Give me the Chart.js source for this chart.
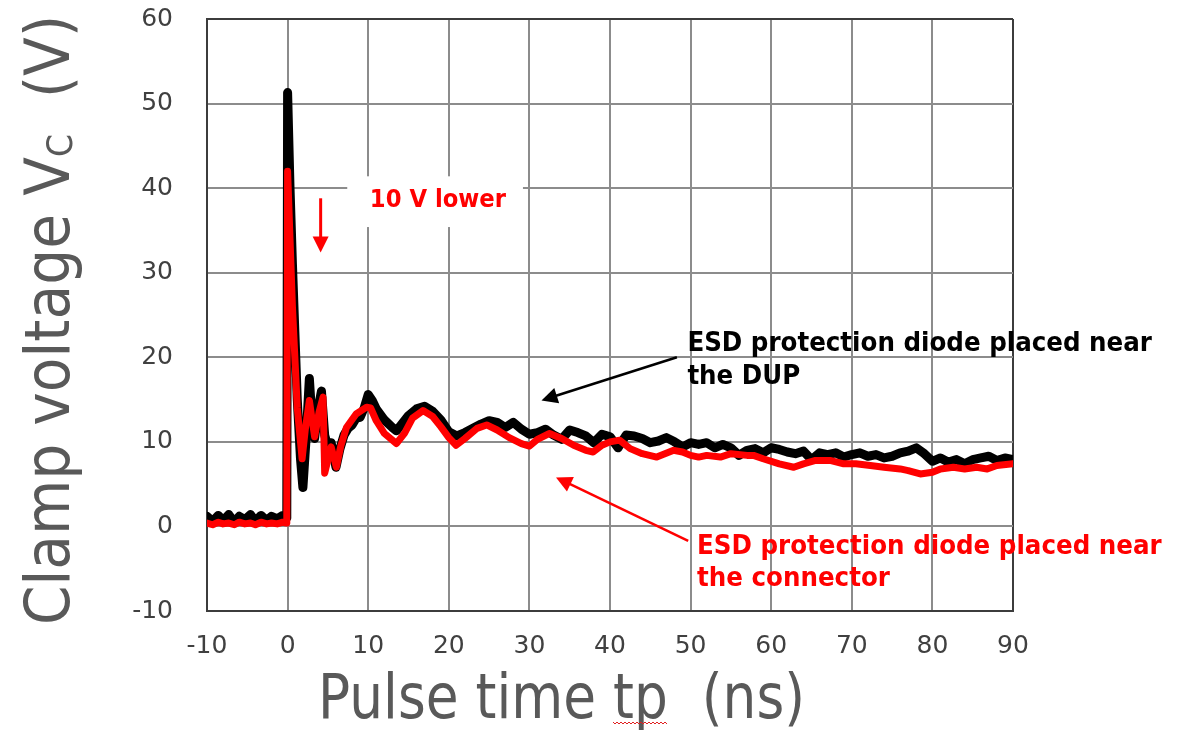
<!DOCTYPE html>
<html>
<head>
<meta charset="utf-8">
<title>Clamp voltage vs pulse time</title>
<script src="https://cdn.jsdelivr.net/npm/chart.js@4.4.1/dist/chart.umd.min.js"></script>
<style>
  html, body { margin: 0; padding: 0; background: #ffffff; }
  #wrap { width: 1186px; height: 730px; }
</style>
</head>
<body>
<div id="wrap"><canvas id="clampChart" width="1186" height="730"></canvas></div>
<script>
// Pulse time (ns) and clamp voltage (V)

// ESD diode near the DUP (black trace)
const dupTime = [
  -10, -9.3, -8.6, -8, -7.3, -6.6, -6, -5.3, -4.6, -4, -3.3, -2.6, -2, -1.3, -0.6, -0.1,
  0, 0.3, 0.6, 0.9, 1.2, 1.6, 1.9, 2.3, 2.7, 3.0,
  3.35, 3.8, 4.2, 4.6, 5.0, 5.4, 6.0, 6.5, 7.0, 7.5,
  8.0, 8.5, 9.0, 9.5, 10, 10.5, 11, 12, 13, 13.5,
  14, 15, 16, 17, 18, 19, 20, 21, 22, 23,
  24, 25, 26, 27, 28, 29, 30, 31, 32, 33,
  34, 35, 36, 37, 38, 39, 40, 41, 42, 43,
  44, 45, 46, 47, 48, 49, 50, 51, 52, 53,
  54, 55, 56, 57, 58, 59, 60, 61, 62, 63,
  64, 65, 66, 67, 68, 69, 70, 71, 72, 73,
  74, 75, 76, 77, 78, 79, 80, 81, 82, 83,
  84, 85, 86, 87, 88, 89, 90
];
const dupVolt = [
  1.2, 0.6, 1.3, 0.7, 1.4, 0.5, 1.2, 0.8, 1.4, 0.6, 1.3, 0.7, 1.2, 0.9, 1.3, 1.0,
  51.3, 40, 31, 23, 15, 8, 4.6, 10.5, 17.5, 13,
  10.4, 14, 16, 10.8, 9.4, 9.9, 7.0, 9.2, 10.8, 11.6,
  12.0, 12.8, 12.9, 14.0, 15.6, 14.9, 13.9, 12.6, 11.7, 11.3,
  11.9, 13.1, 13.9, 14.2, 13.6, 12.6, 11.2, 10.7, 11.1, 11.6,
  12.1, 12.5, 12.3, 11.7, 12.3, 11.5, 10.9, 11.1, 11.5, 10.8,
  10.3, 11.4, 11.1, 10.7, 9.9, 10.9, 10.6, 9.3, 10.8, 10.7,
  10.4, 9.9, 10.1, 10.5, 10.0, 9.4, 9.9, 9.7, 9.9, 9.3,
  9.7, 9.3, 8.4, 9.0, 9.2, 8.7, 9.3, 9.1, 8.8, 8.6,
  8.9, 7.9, 8.7, 8.5, 8.7, 8.2, 8.5, 8.7, 8.3, 8.5,
  8.1, 8.3, 8.7, 8.9, 9.3, 8.6, 7.7, 8.1, 7.6, 7.9,
  7.4, 7.9, 8.1, 8.3, 7.8, 8.1, 7.9
];

// ESD diode near the connector (red trace)
const connTime = [
  -10, -9.3, -8.6, -8, -7.3, -6.6, -6, -5.3, -4.6, -4, -3.3, -2.6, -2, -1.3, -0.6, -0.1,
  0, 0.3, 0.6, 0.9, 1.2, 1.8, 2.2, 2.7, 3.35, 3.9,
  4.4, 4.6, 5.4, 6.05, 6.6, 7.3, 8.5, 9.8, 10.3, 11,
  12, 13.5, 14.5, 15.5, 16.8, 18, 19, 20, 20.9, 22,
  23.5, 24.7, 26, 27.5, 29, 30, 31, 32.5, 34, 35.5,
  37, 37.9, 39, 40, 41.2, 42.5, 44, 45.8, 47.9, 49,
  50, 51, 52, 53.7, 55, 57, 57.8, 59, 61, 62.8,
  64, 65.5, 67.3, 69, 70.5, 72.3, 74, 76, 77, 78.5,
  80, 81, 82.6, 84, 85.5, 86.8, 88, 90
];
const connVolt = [
  0.4, 0.2, 0.5, 0.3, 0.4, 0.2, 0.5, 0.3, 0.4, 0.2, 0.5, 0.3, 0.4, 0.3, 0.5, 0.4,
  42.0, 34, 26, 20, 14, 8.0, 11.5, 14.9, 10.6, 13.5,
  15.3, 6.3, 9.4, 7.0, 9.5, 11.7, 13.3, 14.1, 14.0, 12.5,
  11.0, 9.8, 11.0, 12.8, 13.7, 13.0, 11.8, 10.5, 9.6, 10.4,
  11.6, 12.0, 11.4, 10.5, 9.8, 9.5, 10.3, 11.0, 10.4, 9.6,
  9.0, 8.8, 9.6, 10.0, 10.2, 9.2, 8.6, 8.2, 9.0, 8.8,
  8.4, 8.2, 8.4, 8.2, 8.6, 8.4, 8.4, 8.0, 7.4, 7.0,
  7.4, 7.8, 7.8, 7.4, 7.4, 7.2, 7.0, 6.8, 6.6, 6.2,
  6.4, 6.8, 7.0, 6.8, 7.0, 6.8, 7.2, 7.4
];

const xTicks = [-10, 0, 10, 20, 30, 40, 50, 60, 70, 80, 90];
const yTicks = [-10, 0, 10, 20, 30, 40, 50, 60];

const xTitle = "Pulse time tp  (ns)";
const yTitle = ["Clamp voltage V", "C", "  (V)"];

// callouts, placed in data units (ns, V)
const notes = {
  lowerBox: { x0: 7.4, x1: 29.2, y0: 35.4, y1: 41.4 },
  lowerText: { x: 10.2, y: 38.5, text: "10 V lower" },
  lowerArrow: { x: 4.1, y0: 38.8, y1: 32.4 },
  dupText: { x: 49.6, y: [21.6, 17.7], lines: ["ESD protection diode placed near", "the DUP"] },
  dupArrow: { x0: 48.3, y0: 20.0, x1: 31.5, y1: 14.9 },
  connText: { x: 50.8, y: [-2.4, -6.2], lines: ["ESD protection diode placed near", "the connector"] },
  connArrow: { x0: 49.7, y0: -1.7, x1: 33.3, y1: 5.8 }
};

const colors = {
  dup: "#000000",
  conn: "#ff0000",
  grid: "#8c8c8c",
  frame: "#3c3c3c",
  tick: "#404040",
  title: "#595959"
};

const toPoints = (xs, ys) => xs.map((x, i) => ({ x: x, y: ys[i] }));

function drawArrow(ctx, x0, y0, x1, y1, color, width, head) {
  const ang = Math.atan2(y1 - y0, x1 - x0);
  ctx.save();
  ctx.strokeStyle = color;
  ctx.fillStyle = color;
  ctx.lineWidth = width;
  ctx.beginPath();
  ctx.moveTo(x0, y0);
  ctx.lineTo(x1 - Math.cos(ang) * head * 0.8, y1 - Math.sin(ang) * head * 0.8);
  ctx.stroke();
  ctx.translate(x1, y1);
  ctx.rotate(ang);
  ctx.beginPath();
  ctx.moveTo(0, 0);
  ctx.lineTo(-head, -head * 0.5);
  ctx.lineTo(-head, head * 0.5);
  ctx.closePath();
  ctx.fill();
  ctx.restore();
}

// narrow bold text, Tahoma-like
function drawText(ctx, text, x, y, color, size) {
  ctx.save();
  ctx.font = "bold " + size + "px 'DejaVu Sans'";
  ctx.fillStyle = color;
  ctx.textBaseline = "middle";
  ctx.textAlign = "left";
  ctx.translate(x, y);
  ctx.scale(0.91, 1);
  ctx.fillText(text, 0, 0);
  ctx.restore();
}

const notesPlugin = {
  id: "notes",
  beforeDatasetsDraw(chart) {
    const { ctx, scales: { x, y } } = chart;
    const b = notes.lowerBox;
    ctx.save();
    ctx.fillStyle = "#ffffff";
    const px0 = x.getPixelForValue(b.x0), px1 = x.getPixelForValue(b.x1);
    const py0 = y.getPixelForValue(b.y1), py1 = y.getPixelForValue(b.y0);
    ctx.fillRect(px0, py0, px1 - px0, py1 - py0);
    ctx.restore();
  },
  afterDatasetsDraw(chart) {
    const { ctx, scales: { x, y } } = chart;

    const lt = notes.lowerText;
    drawText(ctx, lt.text, x.getPixelForValue(lt.x), y.getPixelForValue(lt.y), colors.conn, 25);
    const la = notes.lowerArrow;
    drawArrow(ctx, x.getPixelForValue(la.x), y.getPixelForValue(la.y0),
      x.getPixelForValue(la.x), y.getPixelForValue(la.y1), colors.conn, 3, 16);

    const dt = notes.dupText;
    dt.lines.forEach((line, i) => {
      drawText(ctx, line, x.getPixelForValue(dt.x), y.getPixelForValue(dt.y[i]), colors.dup, 27);
    });
    const da = notes.dupArrow;
    drawArrow(ctx, x.getPixelForValue(da.x0), y.getPixelForValue(da.y0),
      x.getPixelForValue(da.x1), y.getPixelForValue(da.y1), colors.dup, 2.5, 16);

    const ct = notes.connText;
    ct.lines.forEach((line, i) => {
      drawText(ctx, line, x.getPixelForValue(ct.x), y.getPixelForValue(ct.y[i]), colors.conn, 27);
    });
    const ca = notes.connArrow;
    drawArrow(ctx, x.getPixelForValue(ca.x0), y.getPixelForValue(ca.y0),
      x.getPixelForValue(ca.x1), y.getPixelForValue(ca.y1), colors.conn, 2.5, 16);
  }
};

// big condensed axis titles, with the subscript on V_C
const titlesPlugin = {
  id: "titles",
  afterDraw(chart) {
    const { ctx, chartArea } = chart;
    const big = "62px 'DejaVu Sans'";
    const small = "36px 'DejaVu Sans'";

    // x title
    ctx.save();
    ctx.font = big;
    ctx.fillStyle = colors.title;
    ctx.textBaseline = "alphabetic";
    const left = chartArea.left + 111;
    const base = chartArea.bottom + 107;
    const sx = 487 / ctx.measureText(xTitle).width;
    const pre = ctx.measureText("Pulse time ").width * sx;
    const tpW = ctx.measureText("tp").width * sx;
    ctx.translate(left, base);
    ctx.scale(sx, 1);
    ctx.fillText(xTitle, 0, 0);
    ctx.restore();

    // spell-check squiggle under "tp"
    ctx.save();
    ctx.strokeStyle = "#e02020";
    ctx.lineWidth = 1;
    ctx.beginPath();
    const sq0 = left + pre, sq1 = left + pre + tpW;
    for (let px = sq0, k = 0; px <= sq1; px += 2, k++) {
      const py = base + 4 + (k % 2 === 0 ? 0 : 2);
      if (k === 0) ctx.moveTo(px, py); else ctx.lineTo(px, py);
    }
    ctx.stroke();
    ctx.restore();

    // y title, rotated
    ctx.save();
    ctx.fillStyle = colors.title;
    ctx.textBaseline = "alphabetic";
    ctx.font = big;
    const w1 = ctx.measureText(yTitle[0]).width;
    const w3 = ctx.measureText(yTitle[2]).width;
    ctx.font = small;
    const w2 = ctx.measureText(yTitle[1]).width;
    const sy = 610 / (w1 + w2 + w3);
    ctx.translate(chartArea.left - 138, chartArea.bottom + 14);
    ctx.rotate(-Math.PI / 2);
    ctx.scale(sy, 1);
    ctx.font = big;
    ctx.fillText(yTitle[0], 0, 0);
    ctx.font = small;
    ctx.fillText(yTitle[1], w1, 3);
    ctx.font = big;
    ctx.fillText(yTitle[2], w1 + w2, 0);
    ctx.restore();
  }
};

const gridFor = (edgeValue) => ({
  color: (c) => (c.tick && c.tick.value === edgeValue ? colors.frame : colors.grid),
  lineWidth: 2,
  drawTicks: false
});

const ctx = document.getElementById("clampChart");

new Chart(ctx, {
  type: "line",
  data: {
    datasets: [
      {
        label: notes.connText.lines.join(" "),
        data: toPoints(connTime, connVolt),
        borderColor: colors.conn,
        borderWidth: 7,
        order: 1
      },
      {
        label: notes.dupText.lines.join(" "),
        data: toPoints(dupTime, dupVolt),
        borderColor: colors.dup,
        borderWidth: 9,
        order: 2
      }
    ]
  },
  options: {
    responsive: false,
    animation: false,
    layout: {
      padding: { top: 19, right: 173, left: 0, bottom: 0 }
    },
    elements: {
      point: { radius: 0 },
      line: { tension: 0, borderJoinStyle: "round", borderCapStyle: "round", fill: false }
    },
    plugins: {
      legend: { display: false },
      tooltip: { enabled: false }
    },
    scales: {
      x: {
        type: "linear",
        min: xTicks[0],
        max: xTicks[xTicks.length - 1],
        afterBuildTicks: (s) => { s.ticks = xTicks.map(v => ({ value: v })); },
        afterFit: (s) => {
          s.height = 119;
          s.paddingLeft = 0;
          s.paddingRight = 0;
        },
        grid: gridFor(xTicks[xTicks.length - 1]),
        border: { display: true, color: colors.frame, width: 2 },
        ticks: {
          padding: 20,
          color: colors.tick,
          maxRotation: 0,
          font: { family: "'DejaVu Sans'", size: 25 }
        }
      },
      y: {
        type: "linear",
        min: yTicks[0],
        max: yTicks[yTicks.length - 1],
        afterBuildTicks: (s) => { s.ticks = yTicks.map(v => ({ value: v })); },
        afterFit: (s) => {
          s.width = 207;
          s.paddingTop = 0;
          s.paddingBottom = 0;
        },
        grid: gridFor(yTicks[yTicks.length - 1]),
        border: { display: true, color: colors.frame, width: 2 },
        ticks: {
          padding: 34,
          color: colors.tick,
          font: { family: "'DejaVu Sans'", size: 25 }
        }
      }
    }
  },
  plugins: [notesPlugin, titlesPlugin]
});
</script>
</body>
</html>
